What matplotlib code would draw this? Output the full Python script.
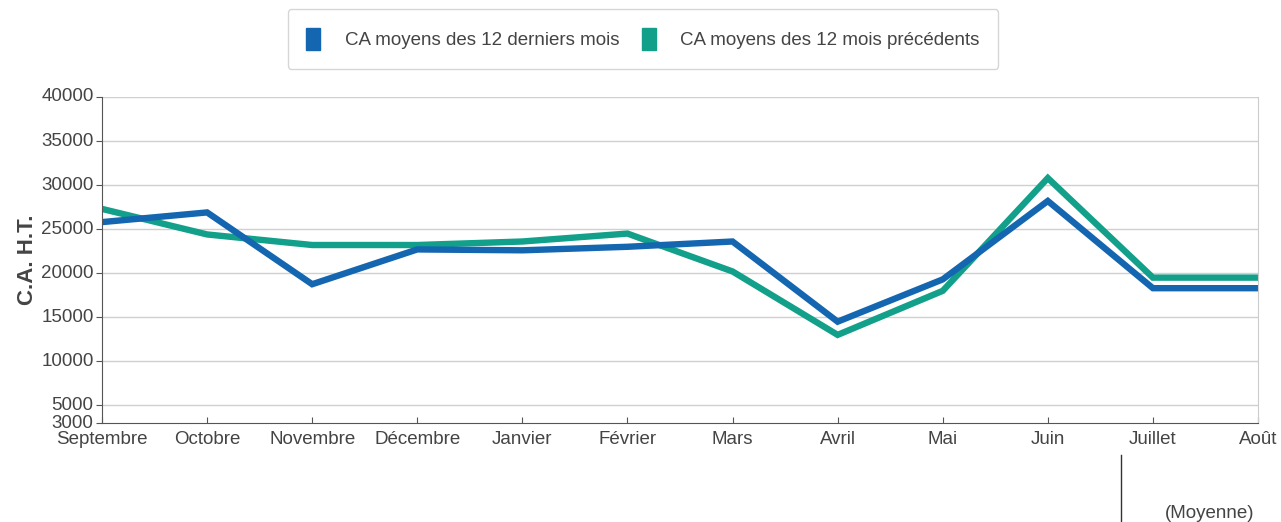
import matplotlib.pyplot as plt
from matplotlib.patches import Patch
from matplotlib.lines import Line2D

plt.rcParams['font.family'] = ['Liberation Sans', 'DejaVu Sans']

mois = ['Septembre', 'Octobre', 'Novembre', 'Décembre', 'Janvier', 'Février',
        'Mars', 'Avril', 'Mai', 'Juin', 'Juillet', 'Août']
derniers = [25800, 26900, 18750, 22700, 22600, 23000,
            23600, 14500, 19300, 28200, 18300, 18300]
precedents = [27300, 24400, 23200, 23200, 23600, 24500,
              20200, 13000, 18000, 30800, 19500, 19500]
yticks = [3000, 5000, 10000, 15000, 20000, 25000, 30000, 35000, 40000]

blue = '#1466b0'
green = '#12a08a'
W, H = 1281, 522

fig = plt.figure(figsize=(W / 100, H / 100), dpi=100)
ax = fig.add_axes([102 / W, 1 - 423 / H, (1258 - 102) / W, (423 - 97) / H])

x = range(len(mois))
ax.plot(x, precedents, color=green, lw=4.6, solid_joinstyle='miter')
ax.plot(x, derniers, color=blue, lw=4.6, solid_joinstyle='miter')

ax.set_xlim(0, len(mois) - 1)
ax.set_ylim(3000, 40000)
ax.set_xticks(list(x))
ax.set_xticklabels(mois)
ax.set_yticks(yticks)
ax.set_yticklabels([str(v) for v in yticks])
for gy in yticks[1:]:
    ax.axhline(gy, color='#d0d0d0', lw=1, zorder=0)

ax.tick_params(axis='x', direction='in', length=4, colors='#555555',
               labelsize=13.5, pad=6, labelcolor='#444444')
ax.tick_params(axis='y', direction='out', length=4, colors='#555555',
               labelsize=13.5, pad=2, labelcolor='#444444')
for lbl in ax.get_yticklabels():
    lbl.set_va('center')

ax.spines['top'].set_visible(False)
ax.spines['right'].set_color('#cccccc')
ax.spines['left'].set_color('#555555')
ax.spines['bottom'].set_color('#555555')

ax.set_ylabel('C.A. H.T.', fontsize=16, fontweight='bold', color='#444444',
              labelpad=2)

handles = [Patch(facecolor=blue, edgecolor=blue),
           Patch(facecolor=green, edgecolor=green)]
fig.legend(handles, ['CA moyens des 12 derniers mois',
                     'CA moyens des 12 mois précédents'],
           loc='center', bbox_to_anchor=(643 / W, 1 - 39 / H), ncol=2,
           fontsize=13.5, frameon=True, edgecolor='#cccccc', fancybox=True,
           handlelength=0.75, handleheight=1.4, handletextpad=1.3,
           columnspacing=1.2, borderpad=1.0, labelcolor='#444444')

fig.add_artist(Line2D([1121 / W, 1121 / W], [1 - 455 / H, 0],
                      color='#333333', lw=1))
fig.text(1210 / W, 1 - 513 / H, '(Moyenne)', ha='center', va='center',
         fontsize=13.5, color='#444444')

fig.savefig('out.png', dpi=100)
